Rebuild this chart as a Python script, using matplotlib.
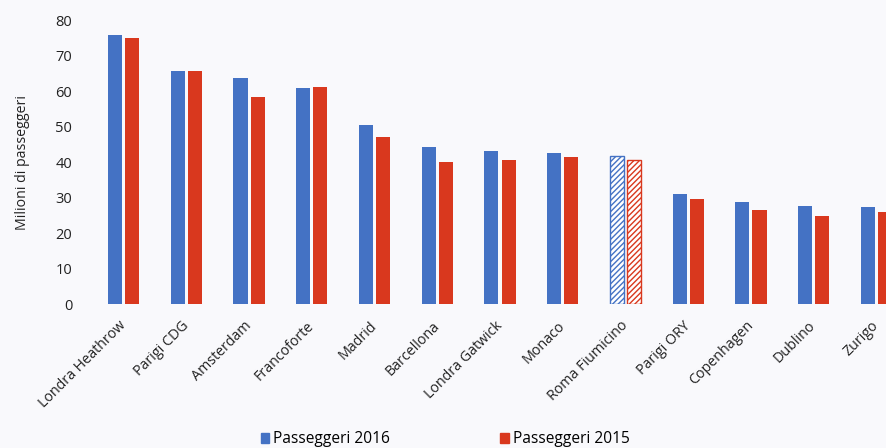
import numpy as np
import matplotlib.pyplot as plt
from matplotlib.patches import Patch

plt.rcParams['font.family'] = ['Open Sans', 'DejaVu Sans']

aeroporti = ["Londra Heathrow", "Parigi CDG", "Amsterdam", "Francoforte", "Madrid",
             "Barcellona", "Londra Gatwick", "Monaco", "Roma Fiumicino", "Parigi ORY",
             "Copenhagen", "Dublino", "Zurigo"]
pass_2016 = [75.8, 65.8, 63.6, 60.8, 50.4, 44.2, 43.1, 42.5, 41.7, 31.0, 28.8, 27.7, 27.4]
pass_2015 = [75.0, 65.7, 58.4, 61.1, 47.0, 40.0, 40.6, 41.4, 40.5, 29.6, 26.5, 24.9, 26.0]
evidenziato = "Roma Fiumicino"

blu = "#4472c4"
rosso = "#d9381e"
sfondo = "#f9f9fc"
testo = "#222222"

fig = plt.figure(figsize=(8.87, 4.48), dpi=100, facecolor=sfondo)
ax = fig.add_axes([0.097, 0.321, 0.903, 0.634], facecolor=sfondo)

x = np.arange(len(aeroporti))
w = 0.225
off = 0.137

for i, nome in enumerate(aeroporti):
    if nome == evidenziato:
        ax.bar(x[i] - off, pass_2016[i], w, facecolor="white", edgecolor=blu,
               hatch="//////", linewidth=1.0)
        ax.bar(x[i] + off, pass_2015[i], w, facecolor="white", edgecolor=rosso,
               hatch="//////", linewidth=1.0)
    else:
        ax.bar(x[i] - off, pass_2016[i], w, color=blu)
        ax.bar(x[i] + off, pass_2015[i], w, color=rosso)

ax.set_xlim(-0.6, 12.17)
ax.set_ylim(0, 80)
ax.set_yticks(range(0, 81, 10))
ax.set_xticks(x)
ax.set_xticklabels(aeroporti, rotation=45, ha="right", va="center",
                   rotation_mode="anchor", fontsize=10.3, color=testo)
ax.tick_params(axis="both", length=0, labelsize=10.5, colors=testo)
ax.tick_params(axis="x", labelsize=10.3, pad=14)
ax.tick_params(axis="y", pad=10)
for s in ax.spines.values():
    s.set_visible(False)

ax.set_ylabel("Milioni di passeggeri", fontsize=10.2, color=testo, labelpad=18)

handles = [Patch(color=blu, label="Passeggeri 2016"),
           Patch(color=rosso, label="Passeggeri 2015")]
fig.legend(handles=handles, loc="lower center", bbox_to_anchor=(0.502, -0.03), ncol=2,
           frameon=False, fontsize=11.2, handlelength=0.55, handleheight=0.55,
           handletextpad=0.25, columnspacing=7.1)

fig.savefig("out.png", dpi=100, facecolor=sfondo)
